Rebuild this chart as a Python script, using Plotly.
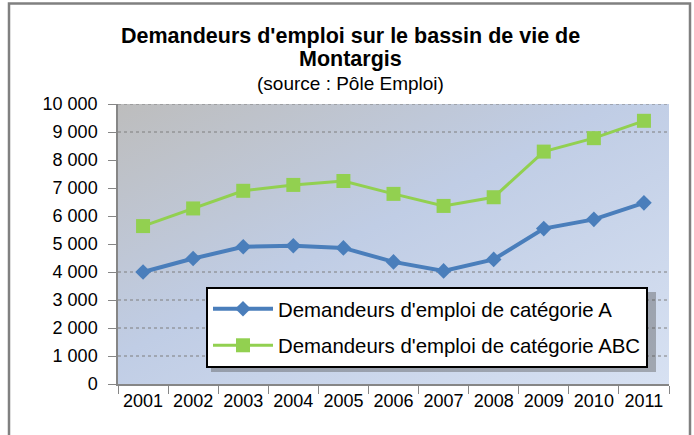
import base64
import plotly.graph_objects as go

years = ["2001", "2002", "2003", "2004", "2005", "2006", "2007", "2008", "2009", "2010", "2011"]
cat_a = [4000, 4480, 4900, 4940, 4860, 4360, 4040, 4450, 5550, 5880, 6470]
cat_abc = [5640, 6270, 6900, 7110, 7250, 6790, 6360, 6670, 8300, 8780, 9400]
name_a = "Demandeurs d'emploi de catégorie A"
name_abc = "Demandeurs d'emploi de catégorie ABC"
grid_values = [10000, 9000, 4000, 3000, 2000, 1000]

FONT = "Liberation Sans, Arial, sans-serif"

# plot area pixel geometry (for paper coords conversion)
L, R, T, B = 118, 669, 104, 384
W, H = R - L, B - T
def px(x):
    return (x - L) / W
def py(y):
    return (B - y) / H

svg = (
    '<svg xmlns="http://www.w3.org/2000/svg" width="551" height="280" preserveAspectRatio="none">'
    '<defs><linearGradient id="g" x1="0" y1="0" x2="1" y2="1">'
    '<stop offset="0" stop-color="#bdbdbd"/>'
    '<stop offset="0.45" stop-color="#c0cde5"/>'
    '<stop offset="1" stop-color="#d7e1f2"/>'
    '</linearGradient></defs>'
    '<rect width="551" height="280" fill="url(#g)"/></svg>'
)
src = "data:image/svg+xml;base64," + base64.b64encode(svg.encode()).decode()

fig = go.Figure()
fig.add_trace(go.Scatter(
    x=years, y=cat_a, name=name_a, mode="lines+markers", legendgroup="a",
    line=dict(color="#4a7ebb", width=4),
    marker=dict(symbol="diamond", size=12, color="#4a7ebb"),
))
fig.add_trace(go.Scatter(
    x=years, y=cat_abc, name=name_abc, mode="lines+markers", legendgroup="b",
    line=dict(color="#92d050", width=3),
    marker=dict(symbol="square", size=14, color="#92d050"),
))

LEG_L, LEG_T = 206, 287
LEG_R, LEG_B = 650, 366

shapes = []
for v in grid_values:
    shapes.append(dict(type="line", xref="paper", yref="y", x0=0, x1=1, y0=v, y1=v,
                       line=dict(color="#7f7f7f", width=1, dash="dot"), layer="below"))
# legend shadow
shapes.append(dict(type="rect", xref="paper", yref="paper",
                   x0=px(LEG_L + 5), x1=px(LEG_R + 6), y0=py(LEG_B + 6), y1=py(LEG_T + 5),
                   fillcolor="rgba(80,80,80,0.4)", line=dict(width=0), layer="below"))
# outer frame
shapes.append(dict(type="rect", xref="paper", yref="paper",
                   x0=px(9), x1=px(690), y0=py(445), y1=py(3.5),
                   line=dict(color="#808080", width=2.5), fillcolor="rgba(0,0,0,0)", layer="below"))

annotations = [
    dict(text="<b>Demandeurs d'emploi sur le bassin de vie de</b>", x=px(350), y=py(36),
         xref="paper", yref="paper", showarrow=False, yanchor="middle",
         font=dict(family=FONT, size=21.5, color="#000000")),
    dict(text="<b>Montargis</b>", x=px(350), y=py(59),
         xref="paper", yref="paper", showarrow=False, yanchor="middle",
         font=dict(family=FONT, size=21.5, color="#000000")),
    dict(text="(source : Pôle Emploi)", x=px(350), y=py(83),
         xref="paper", yref="paper", showarrow=False, yanchor="middle",
         font=dict(family=FONT, size=19, color="#000000")),
]

fig.update_layout(
    width=694, height=435,
    margin=dict(l=L, r=694 - R, t=T, b=435 - B),
    paper_bgcolor="white",
    plot_bgcolor="rgba(0,0,0,0)",
    separators=", ",
    font=dict(family=FONT, size=18, color="#000000"),
    showlegend=True,
    legend=dict(
        x=px(LEG_L), y=py(LEG_T), xanchor="left", yanchor="top",
        bgcolor="white", bordercolor="black", borderwidth=2,
        font=dict(family=FONT, size=20.4, color="#000000"),
        traceorder="grouped", tracegroupgap=7, itemwidth=60,
    ),
    images=[dict(source=src, xref="paper", yref="paper", x=0, y=1, sizex=1, sizey=1,
                 sizing="stretch", layer="below")],
    shapes=shapes,
    annotations=annotations,
)
fig.update_xaxes(
    type="category", range=[-0.5, 10.5], showgrid=False,
    showline=True, linecolor="#868686", linewidth=1.5,
    ticks="outside", tickson="boundaries", ticklen=8, tickcolor="#868686",
    tickfont=dict(family=FONT, size=18),
)
fig.update_yaxes(
    range=[0, 10000], dtick=1000, tickformat=",d", showgrid=False, zeroline=False,
    showline=True, linecolor="#868686", linewidth=1.5,
    ticks="outside", ticklen=8, tickcolor="#868686",
    tickfont=dict(family=FONT, size=18), ticklabelstandoff=7,
)

fig.write_html("out.html", config={"displayModeBar": False},
               post_script="document.body.style.margin='0';document.body.style.overflow='hidden';")
